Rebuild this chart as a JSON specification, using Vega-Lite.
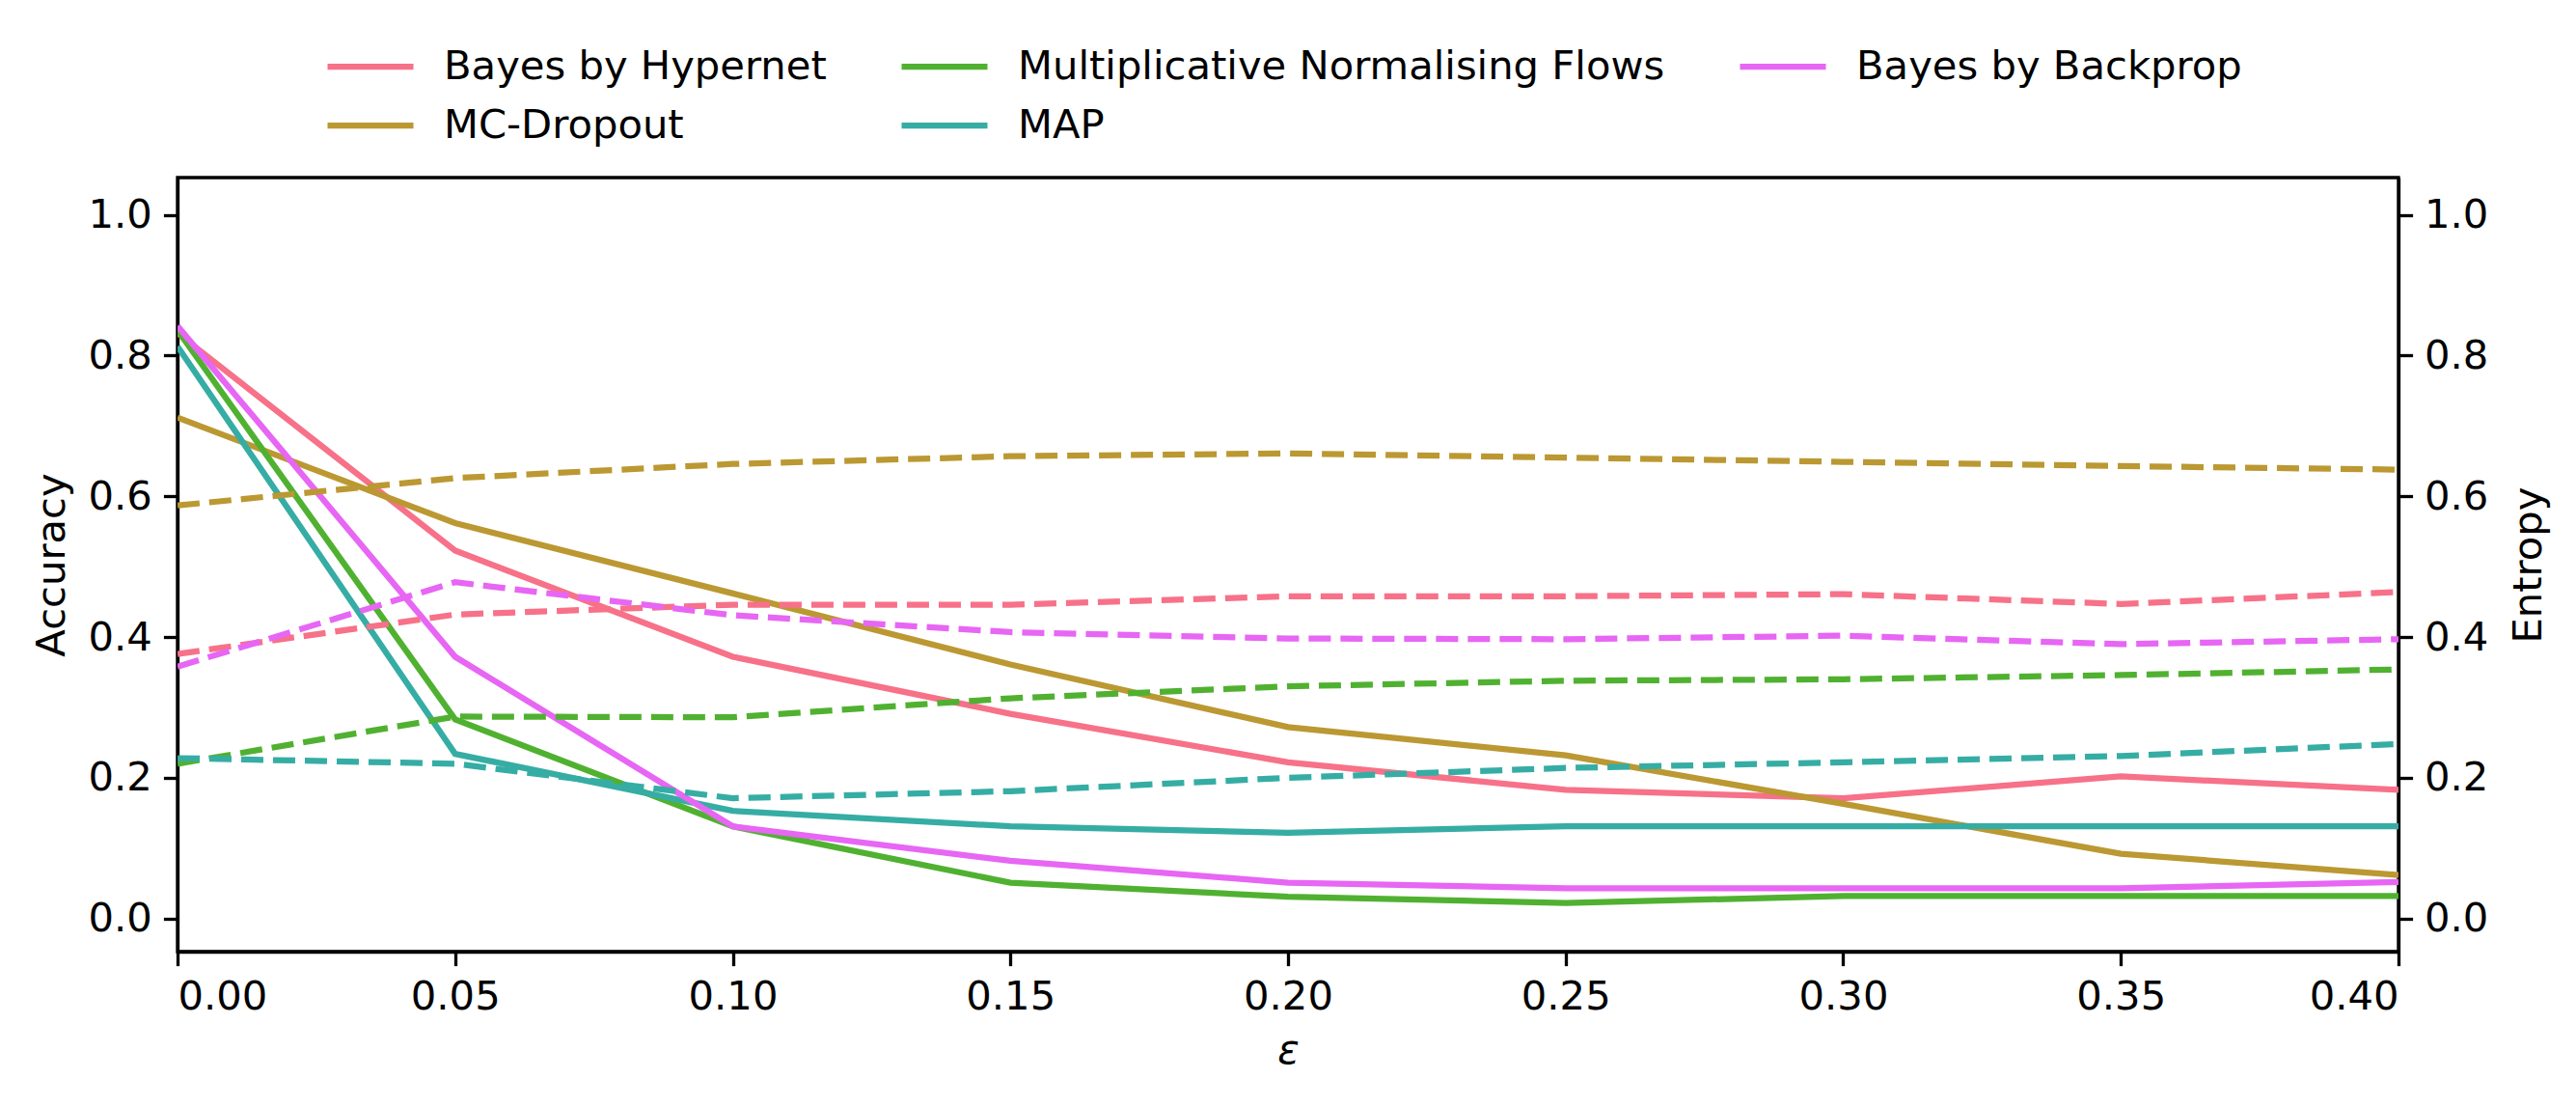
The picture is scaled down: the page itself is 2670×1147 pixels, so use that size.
{
  "$schema": "https://vega.github.io/schema/vega-lite/v6.json",
  "width": 2302,
  "height": 802,
  "autosize": {"type": "none"},
  "padding": {"left": 184, "top": 184, "right": 184, "bottom": 161},
  "background": "white",
  "config": {
    "view": {"stroke": "black", "strokeWidth": 3.3},
    "font": "DejaVu Sans",
    "axis": {
      "labelFont": "DejaVu Sans", "labelFontSize": 41.7, "labelColor": "black",
      "titleFont": "DejaVu Sans", "titleFontSize": 41.7, "titleColor": "black", "titleFontWeight": "normal",
      "tickColor": "black", "tickWidth": 3.3, "tickSize": 14.6, "labelPadding": 12,
      "domainColor": "black", "domainWidth": 3.3, "grid": false
    },
    "legend": {
      "labelFont": "DejaVu Sans", "labelFontSize": 41.7, "labelColor": "black", "labelLimit": 2000
    }
  },
  "data": {"values": [
    {"eps": 0.00, "method": "Bayes by Hypernet", "accuracy": 0.832, "entropy": 0.376},
    {"eps": 0.05, "method": "Bayes by Hypernet", "accuracy": 0.523, "entropy": 0.432},
    {"eps": 0.10, "method": "Bayes by Hypernet", "accuracy": 0.372, "entropy": 0.446},
    {"eps": 0.15, "method": "Bayes by Hypernet", "accuracy": 0.291, "entropy": 0.446},
    {"eps": 0.20, "method": "Bayes by Hypernet", "accuracy": 0.222, "entropy": 0.458},
    {"eps": 0.25, "method": "Bayes by Hypernet", "accuracy": 0.183, "entropy": 0.458},
    {"eps": 0.30, "method": "Bayes by Hypernet", "accuracy": 0.171, "entropy": 0.461},
    {"eps": 0.35, "method": "Bayes by Hypernet", "accuracy": 0.202, "entropy": 0.447},
    {"eps": 0.40, "method": "Bayes by Hypernet", "accuracy": 0.183, "entropy": 0.464},
    {"eps": 0.00, "method": "MC-Dropout", "accuracy": 0.712, "entropy": 0.587},
    {"eps": 0.05, "method": "MC-Dropout", "accuracy": 0.562, "entropy": 0.626},
    {"eps": 0.10, "method": "MC-Dropout", "accuracy": 0.462, "entropy": 0.646},
    {"eps": 0.15, "method": "MC-Dropout", "accuracy": 0.361, "entropy": 0.657},
    {"eps": 0.20, "method": "MC-Dropout", "accuracy": 0.272, "entropy": 0.661},
    {"eps": 0.25, "method": "MC-Dropout", "accuracy": 0.232, "entropy": 0.655},
    {"eps": 0.30, "method": "MC-Dropout", "accuracy": 0.163, "entropy": 0.649},
    {"eps": 0.35, "method": "MC-Dropout", "accuracy": 0.092, "entropy": 0.643},
    {"eps": 0.40, "method": "MC-Dropout", "accuracy": 0.062, "entropy": 0.638},
    {"eps": 0.00, "method": "Multiplicative Normalising Flows", "accuracy": 0.836, "entropy": 0.220},
    {"eps": 0.05, "method": "Multiplicative Normalising Flows", "accuracy": 0.283, "entropy": 0.287},
    {"eps": 0.10, "method": "Multiplicative Normalising Flows", "accuracy": 0.131, "entropy": 0.286},
    {"eps": 0.15, "method": "Multiplicative Normalising Flows", "accuracy": 0.051, "entropy": 0.313},
    {"eps": 0.20, "method": "Multiplicative Normalising Flows", "accuracy": 0.031, "entropy": 0.330},
    {"eps": 0.25, "method": "Multiplicative Normalising Flows", "accuracy": 0.022, "entropy": 0.338},
    {"eps": 0.30, "method": "Multiplicative Normalising Flows", "accuracy": 0.032, "entropy": 0.340},
    {"eps": 0.35, "method": "Multiplicative Normalising Flows", "accuracy": 0.032, "entropy": 0.346},
    {"eps": 0.40, "method": "Multiplicative Normalising Flows", "accuracy": 0.032, "entropy": 0.354},
    {"eps": 0.00, "method": "MAP", "accuracy": 0.813, "entropy": 0.228},
    {"eps": 0.05, "method": "MAP", "accuracy": 0.234, "entropy": 0.220},
    {"eps": 0.10, "method": "MAP", "accuracy": 0.153, "entropy": 0.171},
    {"eps": 0.15, "method": "MAP", "accuracy": 0.131, "entropy": 0.181},
    {"eps": 0.20, "method": "MAP", "accuracy": 0.122, "entropy": 0.200},
    {"eps": 0.25, "method": "MAP", "accuracy": 0.131, "entropy": 0.214},
    {"eps": 0.30, "method": "MAP", "accuracy": 0.131, "entropy": 0.222},
    {"eps": 0.35, "method": "MAP", "accuracy": 0.131, "entropy": 0.231},
    {"eps": 0.40, "method": "MAP", "accuracy": 0.131, "entropy": 0.248},
    {"eps": 0.00, "method": "Bayes by Backprop", "accuracy": 0.842, "entropy": 0.358},
    {"eps": 0.05, "method": "Bayes by Backprop", "accuracy": 0.372, "entropy": 0.478},
    {"eps": 0.10, "method": "Bayes by Backprop", "accuracy": 0.131, "entropy": 0.431},
    {"eps": 0.15, "method": "Bayes by Backprop", "accuracy": 0.082, "entropy": 0.407},
    {"eps": 0.20, "method": "Bayes by Backprop", "accuracy": 0.051, "entropy": 0.398},
    {"eps": 0.25, "method": "Bayes by Backprop", "accuracy": 0.043, "entropy": 0.397},
    {"eps": 0.30, "method": "Bayes by Backprop", "accuracy": 0.043, "entropy": 0.402},
    {"eps": 0.35, "method": "Bayes by Backprop", "accuracy": 0.043, "entropy": 0.390},
    {"eps": 0.40, "method": "Bayes by Backprop", "accuracy": 0.052, "entropy": 0.397}
  ]},
  "encoding": {
    "x": {
      "field": "eps", "type": "quantitative",
      "scale": {"domain": [0, 0.4], "nice": false, "zero": false},
      "axis": {"values": [0, 0.05, 0.1, 0.15, 0.2, 0.25, 0.3, 0.35, 0.4], "format": ".2f", "title": "ε", "titleFontStyle": "italic", "titlePadding": 14}
    },
    "color": {
      "field": "method", "type": "nominal",
      "scale": {
        "domain": ["Bayes by Hypernet", "MC-Dropout", "Multiplicative Normalising Flows", "MAP", "Bayes by Backprop"],
        "range": ["#f77189", "#bb9832", "#50b131", "#36ada4", "#e766f4"]
      }
    }
  },
  "layer": [
    {
      "mark": {"type": "line", "strokeWidth": 6.25, "clip": true},
      "encoding": {
        "y": {
          "field": "accuracy", "type": "quantitative",
          "scale": {"domain": [-0.047, 1.053], "nice": false, "zero": false},
          "axis": {"orient": "left", "values": [0, 0.2, 0.4, 0.6, 0.8, 1.0], "format": ".1f", "title": "Accuracy", "titlePadding": 16}
        },
        "color": {
          "field": "method", "type": "nominal",
          "legend": {
            "orient": "none", "legendX": 152, "legendY": -136, "columns": 3, "direction": "vertical", "title": null,
            "symbolType": "stroke", "symbolSize": 7921, "symbolStrokeWidth": 6.25, "clipHeight": 42,
            "labelOffset": 28, "columnPadding": 74, "rowPadding": 18
          }
        }
      }
    },
    {
      "mark": {"type": "line", "strokeWidth": 6.25, "strokeDash": [23, 10], "clip": true},
      "encoding": {
        "y": {
          "field": "entropy", "type": "quantitative",
          "scale": {"domain": [-0.047, 1.053], "nice": false, "zero": false},
          "axis": {"orient": "right", "values": [0, 0.2, 0.4, 0.6, 0.8, 1.0], "format": ".1f", "title": "Entropy", "titleAngle": 270, "titleX": 134, "titleY": 401, "titleAlign": "center", "titleBaseline": "middle"}
        },
        "color": {"field": "method", "type": "nominal", "legend": null}
      }
    }
  ],
  "resolve": {"scale": {"y": "independent"}}
}
